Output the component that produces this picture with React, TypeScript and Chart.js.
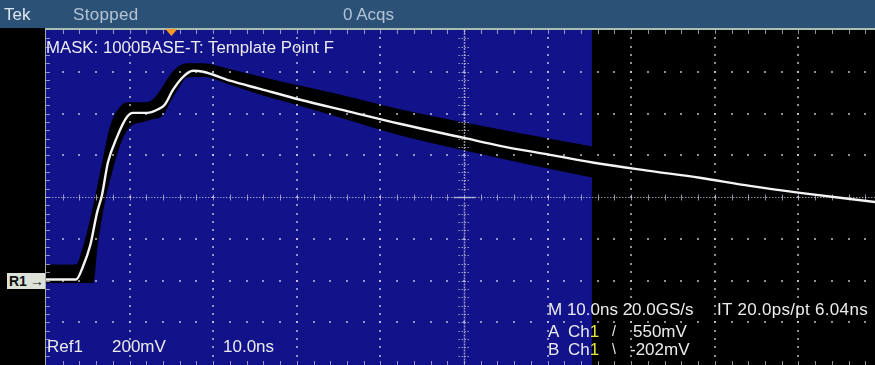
import React, { useEffect, useRef } from "react";
import { Chart, registerables } from "chart.js";

Chart.register(...registerables);

// ---- data (time in ns, amplitude in mV) ----
const TRACE_T = [-50, -46.4, -45.6, -44.7, -43.9, -43.3, -42.6, -41.5, -40.3, -39.6, -37.9, -36.7, -35.8, -34.8, -33.6, -32.4, -31.2, -28.0, -24.4, -19.6, -13.6, -7.7, 0, 4.3, 10.3, 16.3, 22.2, 28.2, 34.2, 40.2, 49.2];
const TRACE_MV = [5, 5, 65, 170, 324, 410, 564, 688, 784, 803, 803, 818, 842, 914, 976, 1005, 1000, 957, 918, 866, 808, 751, 683, 645, 602, 559, 525, 492, 453, 420, 376];

const MASK_T = [-50, -46.4, -45.6, -44.4, -43.9, -43.0, -42.3, -41.1, -40.0, -38.4, -37.2, -36.0, -35.2, -34.3, -33.1, -31.2, -28.0, -24.0, -22.0, -15.0, -7.7, 0, 7.5, 15.3];
const MASK_UPPER_MV = [74, 74, 150, 340, 434, 610, 736, 832, 851, 851, 866, 928, 980, 1019, 1038, 1038, 1010, 971, 952, 890, 818, 755, 697, 640];
const MASK_LOWER_MV = [-10, -10, -10, -10, 160, 380, 496, 659, 736, 762, 775, 794, 856, 915, 975, 978, 940, 888, 866, 785, 698, 626, 560, 496];

const X_MIN = -50;
const X_MAX = 49.16;
const X_DIV = 10;
const Y_MIN = -400;
const Y_MAX = 1200;
const Y_DIV = 200;
const CENTER_T = 0;
const CENTER_MV = 400;
const MASK_REGION_END_T = 15.3;
const TRIGGER_T = -35;

const TOP_TEXTS = ["Tek", "Stopped", "0 Acqs"];
const MASK_TITLE = "MASK: 1000BASE-T: Template Point F";
const REF_TEXTS = ["Ref1", "200mV", "10.0ns"];
const HORIZ_TEXTS = ["M 10.0ns 20.0GS/s", "IT 20.0ps/pt 6.04ns"];
const TRIG_A = ["A", "Ch", "1", "/", "550mV"];
const TRIG_B = ["B", "Ch", "1", "\\", "-202mV"];

const BLUE = "#12128a";
const BAR = "#2b5177";
const GRID = "rgba(210,210,225,0.68)";

function drawGrid(chart: any) {
  const { ctx, chartArea: a, scales } = chart;
  const xs = scales.x;
  const ys = scales.y;
  const px = (t: number) => xs.getPixelForValue(t);
  const py = (v: number) => ys.getPixelForValue(v);
  const xMinor = X_DIV / 5;
  const yMinor = Y_DIV / 5;
  ctx.save();
  ctx.fillStyle = GRID;
  const dot = (X: number, Y: number) => ctx.fillRect(Math.round(X) - 1, Math.round(Y) - 1, 2, 2);
  // vertical major lines
  for (let k = 1; X_MIN + k * X_DIV < X_MAX + 1; k++) {
    const t = X_MIN + k * X_DIV;
    if (Math.abs(t - CENTER_T) < 1e-6) continue;
    const X = px(t);
    for (let j = 1; Y_MIN + j * yMinor < Y_MAX; j++) dot(X, py(Y_MIN + j * yMinor));
  }
  // horizontal major lines
  for (let k = 1; Y_MIN + k * Y_DIV < Y_MAX; k++) {
    const v = Y_MIN + k * Y_DIV;
    if (Math.abs(v - CENTER_MV) < 1e-6) continue;
    const Y = py(v);
    for (let j = 1; X_MIN + j * xMinor < X_MAX + 0.5; j++) dot(px(X_MIN + j * xMinor), Y);
  }
  ctx.strokeStyle = GRID;
  // center vertical
  const cx = Math.round(px(CENTER_T)) + 0.5;
  const cy = Math.round(py(CENTER_MV)) + 0.5;
  ctx.lineWidth = 1.5;
  ctx.setLineDash([2, 1]);
  ctx.beginPath();
  ctx.moveTo(cx, a.top);
  ctx.lineTo(cx, cy - 5);
  ctx.moveTo(cx, cy + 5);
  ctx.lineTo(cx, a.bottom);
  ctx.stroke();
  ctx.lineWidth = 1;
  ctx.setLineDash([1.5, 1.5]);
  ctx.beginPath();
  for (let j = 1; Y_MIN + j * yMinor < Y_MAX; j++) {
    const Y = Math.round(py(Y_MIN + j * yMinor)) + 0.5;
    ctx.moveTo(cx - 6, Y);
    ctx.lineTo(cx + 6, Y);
  }
  ctx.stroke();
  // center horizontal
  ctx.setLineDash([1.5, 1.5]);
  ctx.beginPath();
  ctx.moveTo(a.left, cy);
  ctx.lineTo(a.right, cy);
  ctx.stroke();
  ctx.setLineDash([]);
  ctx.beginPath();
  for (let j = 1; X_MIN + j * xMinor < X_MAX + 0.5; j++) {
    const X = Math.round(px(X_MIN + j * xMinor)) + 0.5;
    ctx.moveTo(X, cy - 3);
    ctx.lineTo(X, cy + 3);
  }
  ctx.stroke();
  ctx.lineWidth = 1.5;
  ctx.beginPath();
  ctx.moveTo(cx - 11, cy);
  ctx.lineTo(cx + 11, cy);
  ctx.stroke();
  // edge ticks
  ctx.lineWidth = 1;
  ctx.beginPath();
  for (let j = 1; X_MIN + j * xMinor < X_MAX + 0.5; j++) {
    const X = Math.round(px(X_MIN + j * xMinor)) + 0.5;
    ctx.moveTo(X, a.top);
    ctx.lineTo(X, a.top + 4);
    ctx.moveTo(X, a.bottom + 1);
    ctx.lineTo(X, a.bottom - 3);
  }
  for (let j = 1; Y_MIN + j * yMinor < Y_MAX; j++) {
    const Y = Math.round(py(Y_MIN + j * yMinor)) + 0.5;
    ctx.moveTo(a.left, Y);
    ctx.lineTo(a.left + 4, Y);
  }
  ctx.stroke();
  // borders
  ctx.strokeStyle = "#a9bdb1";
  ctx.lineWidth = 2;
  ctx.beginPath();
  ctx.moveTo(a.left - 1, a.top - 1);
  ctx.lineTo(a.right, a.top - 1);
  ctx.stroke();
  ctx.strokeStyle = "rgba(195,200,195,0.85)";
  ctx.lineWidth = 1;
  ctx.beginPath();
  ctx.moveTo(a.left - 0.5, a.top);
  ctx.lineTo(a.left - 0.5, chart.height);
  ctx.stroke();
  ctx.restore();
}

const scopePlugin = {
  id: "scopeScreen",
  beforeDatasetsDraw(chart: any) {
    const { ctx, chartArea: a, scales } = chart;
    const xr = scales.x.getPixelForValue(MASK_REGION_END_T);
    ctx.save();
    ctx.fillStyle = BLUE;
    ctx.fillRect(a.left, a.top, xr - a.left, chart.height - a.top);
    ctx.restore();
  },
  beforeDatasetDraw(chart: any, args: any) {
    if (args.index === 0) drawGrid(chart);
  },
  afterDraw(chart: any) {
    const { ctx, chartArea: a, scales } = chart;
    const tx = scales.x.getPixelForValue(TRIGGER_T);
    ctx.save();
    ctx.fillStyle = "#f59a26";
    ctx.beginPath();
    ctx.moveTo(tx - 6, a.top - 1);
    ctx.lineTo(tx + 6, a.top - 1);
    ctx.lineTo(tx, a.top + 6);
    ctx.closePath();
    ctx.fill();
    ctx.restore();
  },
};

const txt = (left: number, top: number, size: number, color: string, extra: any = {}) => ({
  position: "absolute" as const,
  left,
  top,
  fontSize: size,
  lineHeight: `${size}px`,
  color,
  whiteSpace: "pre" as const,
  ...extra,
});

export default function App() {
  const ref = useRef<HTMLCanvasElement>(null);
  useEffect(() => {
    const chart = new Chart(ref.current as HTMLCanvasElement, {
      type: "line",
      data: {
        datasets: [
          {
            label: "Ref1",
            data: TRACE_T.map((t, i) => ({ x: t, y: TRACE_MV[i] })),
            borderColor: "#f4f4f4",
            borderWidth: 2.4,
            pointRadius: 0,
            cubicInterpolationMode: "monotone",
            fill: false,
            order: 0,
          },
          {
            label: "Mask upper",
            data: MASK_T.map((t, i) => ({ x: t, y: MASK_UPPER_MV[i] })),
            borderColor: "#000",
            borderWidth: 1,
            backgroundColor: "#000",
            pointRadius: 0,
            cubicInterpolationMode: "monotone",
            fill: "+1",
            order: 1,
          },
          {
            label: "Mask lower",
            data: MASK_T.map((t, i) => ({ x: t, y: MASK_LOWER_MV[i] })),
            borderColor: "#000",
            borderWidth: 1,
            pointRadius: 0,
            cubicInterpolationMode: "monotone",
            fill: false,
            order: 2,
          },
        ],
      } as any,
      options: {
        animation: false,
        responsive: false,
        maintainAspectRatio: false,
        events: [],
        layout: { padding: { left: 46, top: 30, right: 0, bottom: 1 } },
        plugins: { legend: { display: false }, tooltip: { enabled: false } },
        scales: {
          x: { type: "linear", min: X_MIN, max: X_MAX, display: false },
          y: { type: "linear", min: Y_MIN, max: Y_MAX, display: false },
        },
      } as any,
      plugins: [scopePlugin],
    });
    return () => chart.destroy();
  }, []);

  const W = "#ececec";
  const Y = "#e8e23c";
  return (
    <div
      style={{
        position: "fixed",
        left: 0,
        top: 0,
        width: 875,
        height: 365,
        background: "#000",
        overflow: "hidden",
        fontFamily: '"Liberation Sans", Arial, sans-serif',
      }}
    >
      <canvas ref={ref} width={875} height={365} style={{ position: "absolute", left: 0, top: 0, width: 875, height: 365 }} />
      <div style={{ position: "absolute", left: 0, top: 0, width: 875, height: 28, background: BAR }} />
      <div style={txt(4, 6, 17, "#dfe6ee")}>{TOP_TEXTS[0]}</div>
      <div style={txt(73, 6, 17, "#b4c4d4", { letterSpacing: 0.3 })}>{TOP_TEXTS[1]}</div>
      <div style={txt(343, 6, 17, "#b4c4d4")}>{TOP_TEXTS[2]}</div>

      <div style={txt(46, 39.5, 16.8, W)}>{MASK_TITLE}</div>

      <div style={txt(47, 337.6, 17, W)}>{REF_TEXTS[0]}</div>
      <div style={txt(112, 337.6, 17, W)}>{REF_TEXTS[1]}</div>
      <div style={txt(223, 337.6, 17, W)}>{REF_TEXTS[2]}</div>

      <div style={txt(548, 300.6, 17, W)}>{HORIZ_TEXTS[0]}</div>
      <div style={txt(717, 300.6, 17, W, { letterSpacing: 0.3 })}>{HORIZ_TEXTS[1]}</div>

      <div style={txt(548, 322.6, 17, W)}>{TRIG_A[0]}</div>
      <div style={txt(568, 322.6, 17, W)}>{TRIG_A[1]}<span style={{ color: Y }}>{TRIG_A[2]}</span></div>
      <div style={txt(612, 324, 14, W)}>{TRIG_A[3]}</div>
      <div style={txt(633, 322.6, 17, W)}>{TRIG_A[4]}</div>

      <div style={txt(548, 340.6, 17, W)}>{TRIG_B[0]}</div>
      <div style={txt(568, 340.6, 17, W)}>{TRIG_B[1]}<span style={{ color: Y }}>{TRIG_B[2]}</span></div>
      <div style={txt(612, 342, 14, W)}>{TRIG_B[3]}</div>
      <div style={txt(630, 340.6, 17, W)}>{TRIG_B[4]}</div>

      <div
        style={{
          position: "absolute",
          left: 7,
          top: 273,
          width: 38,
          height: 16,
          background: "#dde2d8",
          color: "#111",
          fontSize: 14,
          fontWeight: "bold",
          lineHeight: "16px",
          paddingLeft: 2,
          boxSizing: "border-box",
        }}
      >
        R1<span style={{ position: "absolute", right: 1, top: 0 }}>→</span>
      </div>
    </div>
  );
}
